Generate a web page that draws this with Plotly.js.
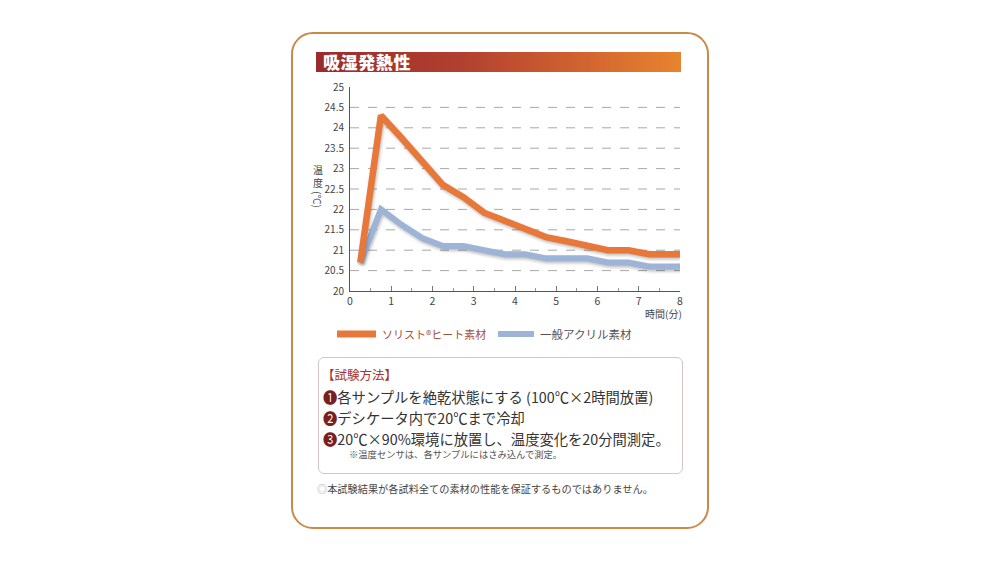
<!DOCTYPE html>
<html><head><meta charset="utf-8">
<script src="https://cdn.plot.ly/plotly-3.0.1.min.js"></script>
<style>
html,body{margin:0;padding:0;background:#fff;}
body{width:1000px;height:562px;position:relative;overflow:hidden;font-family:"Noto Sans CJK JP","Noto Sans",sans-serif;}
#frame{position:absolute;left:291px;top:32px;width:414px;height:493px;border:2.5px solid #c98a48;border-radius:22px;}
#banner{position:absolute;left:316px;top:52px;width:365px;height:20px;background:linear-gradient(to right,#9a2a2d 0%,#b2402f 40%,#d3662f 75%,#e8842e 100%);}
#banner span{position:absolute;left:7px;top:-3px;color:#fff;font-weight:900;font-size:17px;letter-spacing:0.6px;line-height:26px;}
#chart{position:absolute;left:0;top:0;width:1000px;height:562px;}
#box{position:absolute;left:318px;top:357px;width:363px;height:115px;border:1px solid #d9c4c4;border-radius:6px;}
.t{position:absolute;white-space:nowrap;line-height:1;}
.m{font-size:14.3px;color:#333;}
.js-line{filter:drop-shadow(1px 2px 1.5px rgba(0,0,0,0.25));}
</style></head>
<body>
<div id="frame"></div>
<div id="banner"><span>吸湿発熱性</span></div>
<div id="box"></div>
<div class="t" style="left:322px;top:369px;font-size:12.5px;color:#a8332f;">【試験方法】</div>
<div class="t m" style="left:323px;top:390px;"><span style="color:#7a1e1e">❶</span>各サンプルを絶乾状態にする (100℃×2時間放置)</div>
<div class="t m" style="left:323px;top:411px;"><span style="color:#7a1e1e">❷</span>デシケータ内で20℃まで冷却</div>
<div class="t m" style="left:323px;top:432px;"><span style="color:#7a1e1e">❸</span>20℃×90%環境に放置し、温度変化を20分間測定。</div>
<div class="t" style="left:349px;top:450px;font-size:9.3px;color:#555;">※温度センサは、各サンプルにはさみ込んで測定。</div>
<div class="t" style="left:317px;top:484px;font-size:10.2px;color:#444;"><span style="color:#aaa">◎</span>本試験結果が各試料全ての素材の性能を保証するものではありません。</div>
<div id="chart"></div>
<script>
const timeMin = [0.25,0.75,1.25,1.75,2.25,2.75,3.25,3.75,4.25,4.75,5.25,5.75,6.25,6.75,7.25,7.75,8];
const solistHeat = [20.7,24.3,23.75,23.2,22.6,22.3,21.92,21.72,21.52,21.32,21.22,21.1,21.0,21.0,20.9,20.9,20.9];
const acrylic = [20.7,22.0,21.62,21.3,21.1,21.1,21.0,20.9,20.9,20.8,20.8,20.8,20.7,20.7,20.6,20.6,20.6];
const seriesNames = ['ソリスト®ヒート素材','一般アクリル素材'];
const seriesColors = ['#e8773a','#9db4d7'];
const gridVals = [20.5,21,21.5,22,22.5,23,23.5,24,24.5];
const yTicks = [20,20.5,21,21.5,22,22.5,23,23.5,24,24.5,25];
const yTickText = ['20','20.5','21','21.5','22','22.5','23','23.5','24','24.5','25'];
const xTicks = [0,1,2,3,4,5,6,7,8];

const font = {family:'"Noto Sans CJK JP","Noto Sans",sans-serif', color:'#444', size:10};

const traces = [
  {x: timeMin, y: acrylic, name: seriesNames[1], mode:'lines', line:{color:seriesColors[1], width:6}, showlegend:false, hoverinfo:'skip'},
  {x: timeMin, y: solistHeat, name: seriesNames[0], mode:'lines', line:{color:seriesColors[0], width:6.5}, showlegend:false, hoverinfo:'skip'}
];

const shapes = gridVals.map(v => ({type:'line', xref:'paper', yref:'y', x0:0, x1:1, y0:v, y1:v, line:{color:'#a8a8a8', width:1, dash:'dash'}, layer:'below'}));
function px(x){ return (x-350)/330; }
function py(y){ return (562-271-y)/204; }
shapes.push({type:'line', xref:'paper', yref:'paper', x0:px(337), x1:px(376), y0:py(334), y1:py(334), line:{color:seriesColors[0], width:7}});
shapes.push({type:'line', xref:'paper', yref:'paper', x0:px(498), x1:px(534), y0:py(334), y1:py(334), line:{color:seriesColors[1], width:6}});

const annotations = [
  {xref:'paper', yref:'paper', x:px(380), y:py(334), xanchor:'left', yanchor:'middle', showarrow:false, text:seriesNames[0], font:{family:font.family, size:11, color:'#a5503e'}},
  {xref:'paper', yref:'paper', x:px(538), y:py(334), xanchor:'left', yanchor:'middle', showarrow:false, text:seriesNames[1], font:{family:font.family, size:11.5, color:'#555'}},
  {xref:'paper', yref:'paper', x:px(684), y:py(313), xanchor:'right', yanchor:'middle', showarrow:false, text:'時間(分)', font:{family:font.family, size:10, color:'#444'}},
  {xref:'paper', yref:'paper', x:px(318), y:py(176), xanchor:'center', yanchor:'middle', showarrow:false, text:'温<br>度', font:{family:font.family, size:10, color:'#444'}},
  {xref:'paper', yref:'paper', x:px(318), y:py(199), xanchor:'center', yanchor:'middle', showarrow:false, textangle:90, text:'(℃)', font:{family:font.family, size:10, color:'#444'}}
];

const layout = {
  width:1000, height:562,
  margin:{l:350, r:320, t:87, b:271, pad:0},
  paper_bgcolor:'rgba(0,0,0,0)', plot_bgcolor:'rgba(0,0,0,0)',
  font: font,
  xaxis:{range:[0,8], tickvals:xTicks, showgrid:false, zeroline:false, showline:true, linecolor:'#555', linewidth:1,
         ticks:'inside', ticklen:5, tickcolor:'#777', tickfont:{size:10.5, color:'#444'},
         minor:{dtick:0.5, tick0:0, ticks:'inside', ticklen:3, tickcolor:'#999', showgrid:false}},
  yaxis:{range:[20,25], tickvals:yTicks, ticktext:yTickText, showgrid:false, zeroline:false, showline:true, linecolor:'#555', linewidth:1,
         ticks:'', ticklabelstandoff:3, tickfont:{size:10, color:'#444'}},
  shapes: shapes,
  annotations: annotations,
  showlegend:false
};
Plotly.newPlot('chart', traces, layout, {staticPlot:true, displayModeBar:false});
</script>
</body></html>
